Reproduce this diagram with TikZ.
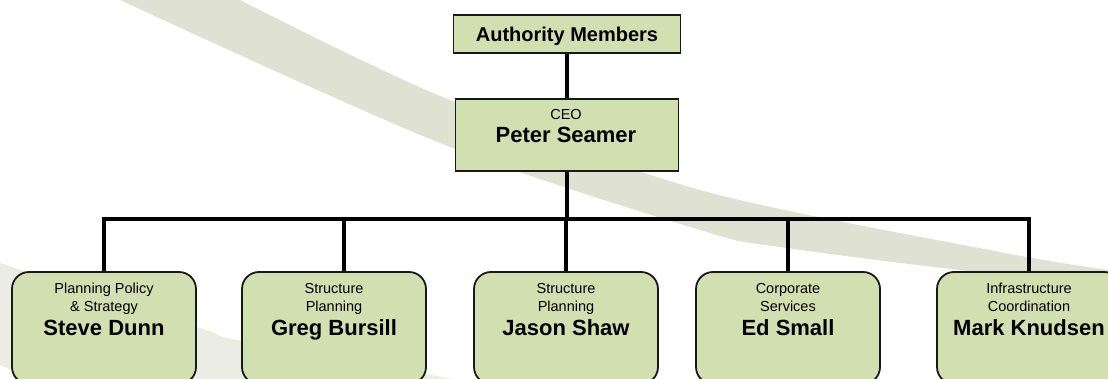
\documentclass[tikz,border=0pt]{standalone}
\usepackage{fontspec}
\setmainfont{Liberation Sans}
\usetikzlibrary{backgrounds}
\definecolor{boxfill}{RGB}{210,224,177}
\definecolor{boxline}{RGB}{25,25,25}
\definecolor{swoosh}{RGB}{223,225,211}
\definecolor{swooshlight}{RGB}{235,236,228}
\begin{document}
\begin{tikzpicture}[x=1pt,y=-1pt,
  topbox/.style={draw=boxline, line width=1.8pt, fill=boxfill, inner sep=0pt, outer sep=0pt},
  unitbox/.style={topbox, rounded corners=17pt, minimum width=184pt, minimum height=112pt},
  conn/.style={line width=3.6pt, draw=black},
  small/.style={font=\fontsize{14.5}{16}\selectfont, inner sep=0pt, anchor=base},
  bigname/.style={font=\bfseries\fontsize{22}{24}\selectfont, inner sep=0pt, anchor=base},
  toptext/.style={font=\bfseries\fontsize{20}{22}\selectfont, inner sep=0pt, anchor=base}]
\useasboundingbox (0,0) rectangle (1108,379);
\clip (0,0) rectangle (1108,379);

\begin{pgfonlayer}{background}
\fill[swoosh] plot[smooth] coordinates {(240,0) (440,96) (700,190) (1000,252) (1108,270)}
  -- plot[smooth] coordinates {(1108,272) (1000,274) (780,247) (700,230) (440,143) (120,0)} -- cycle;
\fill[swooshlight] plot[smooth] coordinates {(0,263) (200,328) (242,341) (470,382)}
  -- (40,382) -- (0,365) -- cycle;
\end{pgfonlayer}

% boxes
\node[topbox, minimum width=227pt, minimum height=38pt] (auth) at (567,34) {};
\node[topbox, minimum width=223pt, minimum height=72pt] (ceo) at (567,135) {};
\node[unitbox] (b1) at (104,328) {};
\node[unitbox] (b2) at (334,328) {};
\node[unitbox] (b3) at (566,328) {};
\node[unitbox] (b4) at (788,328) {};
\node[unitbox] (b5) at (1029,328) {};

% texts
\node[toptext] (authT) at (567,42) {Authority Members};
\node[small] (ceoT) at (566,120) {CEO};
\node[bigname] (ceoN) at (566,143) {Peter Seamer};

\node[small] (t1a) at (104,293.5) {Planning Policy};
\node[small] (t1b) at (104,311) {\& Strategy};
\node[bigname] (n1) at (104,335) {Steve Dunn};

\node[small] (t2a) at (334,293.5) {Structure};
\node[small] (t2b) at (334,311) {Planning};
\node[bigname] (n2) at (334,335) {Greg Bursill};

\node[small] (t3a) at (566,293.5) {Structure};
\node[small] (t3b) at (566,311) {Planning};
\node[bigname] (n3) at (566,335) {Jason Shaw};

\node[small] (t4a) at (788,293.5) {Corporate};
\node[small] (t4b) at (788,311) {Services};
\node[bigname] (n4) at (788,335) {Ed Small};

\node[small] (t5a) at (1029,293.5) {Infrastructure};
\node[small] (t5b) at (1029,311) {Coordination};
\node[bigname] (n5) at (1029,335) {Mark Knudsen};

% connectors
\coordinate (bus) at (567,219);
\coordinate (d2) at (344,272);
\begin{pgfonlayer}{background}
\draw[conn] (auth.south) -- (ceo.north);
\draw[conn] (ceo.south) -- (bus);
\draw[conn] (b1.north) |- (bus) -| (b5.north);
\draw[conn] (d2) -- (d2 |- bus);
\draw[conn] (b3.north) -- (b3.north |- bus);
\draw[conn] (b4.north) -- (b4.north |- bus);
\end{pgfonlayer}
\end{tikzpicture}
\end{document}
